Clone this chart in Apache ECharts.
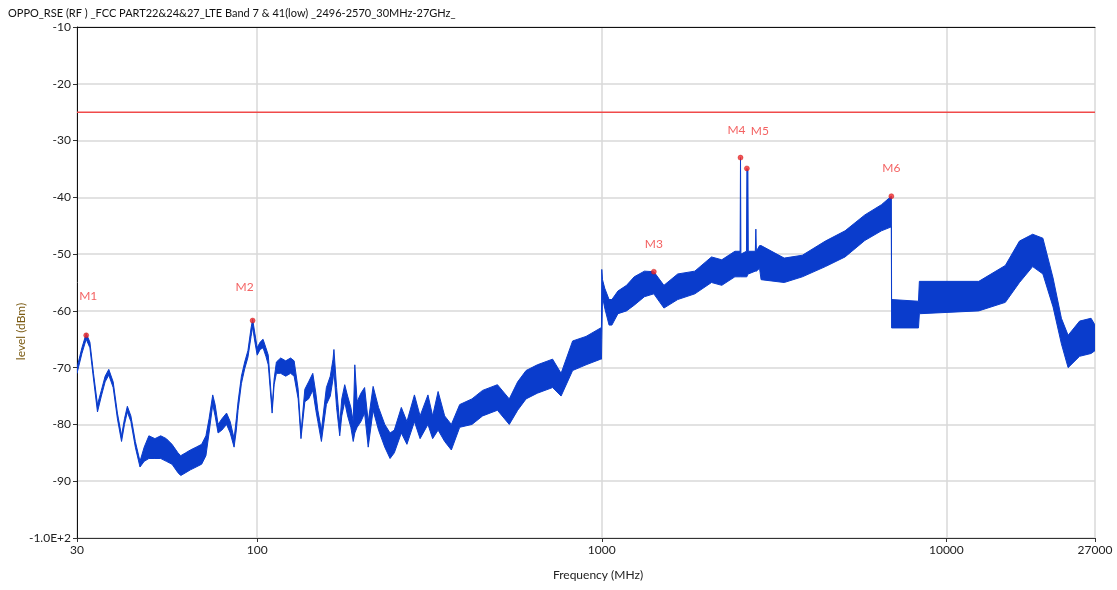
<!DOCTYPE html>
<html>
<head>
<meta charset="utf-8">
<title>OPPO RSE</title>
<script src="https://cdn.jsdelivr.net/npm/echarts@6/dist/echarts.min.js"></script>
<style>
  html, body { margin: 0; padding: 0; background: #fff; }
  #chart { width: 1117px; height: 590px; }
</style>
</head>
<body>
<div id="chart"></div>
<script>
// trace envelope: frequency (MHz), upper and lower edge of the noisy trace (dBm)
var freqs = [
  30, 31, 31.9, 32.7, 33.5, 34.4, 35.3, 36.2, 37.1, 38.2, 39.3, 40.4, 41.2, 42, 43, 44.3, 45.7,
  47, 48.5, 50.5, 52.5, 54.5, 56.6, 58.9, 60, 62, 64, 66.5, 69, 71, 72.5, 74.3, 75.5, 77, 79,
  81.5, 83.5, 85.7, 87, 88, 90, 92, 94, 96, 97, 98.5, 100, 102, 104, 106, 107.7, 110.5, 112,
  113.7, 117, 121, 125, 128, 131.5, 134, 137.5, 141, 145, 148, 150, 153.6, 158.8, 163, 166,
  167, 170, 173.6, 176, 179.5, 183, 187, 190, 192, 195, 200, 205, 210, 217, 225, 234.6, 243,
  250, 262, 272, 286, 297, 313, 323, 335, 350, 366, 387, 420, 451, 498, 539, 570, 603, 650,
  720, 762, 823, 900, 993, 998, 1000, 1005, 1020, 1050, 1070, 1114, 1180, 1242, 1330, 1416,
  1515, 1661, 1862, 2082, 2230, 2434, 2520, 2527, 2534, 2630, 2637, 2655, 2662, 2790, 2800,
  2810, 2870, 2900, 3384, 3820, 4456, 5082, 5799, 6480, 6924, 6935, 8300, 8350, 12420, 14830,
  16300, 17800, 19060, 20400, 21570, 22560, 24360, 26300, 27000
];
var levelHi = [
  -70, -66.5, -64, -65.5, -71, -76.5, -74, -71.5, -70.3, -72.5, -78, -82, -79, -76.8, -78.5, -83, -86.5,
  -84, -82, -82.5, -82, -82.5, -83.5, -85, -85.5, -85, -84.5, -84, -83.5, -82, -79, -74.8, -76.5, -80, -79,
  -78, -79.5, -82.5, -79, -76, -71.5, -69, -67, -63, -61.5, -64, -66.5, -65.5, -65, -66.5, -67.8, -77, -72,
  -69, -68.3, -68.8, -68.3, -68.8, -73.8, -81.5, -73.8, -72.5, -71, -74.5, -77.5, -81, -73.5, -71.5, -68.5,
  -66.8, -73.5, -80, -75.5, -73, -75, -77, -79.5, -69.5, -76, -74.5, -73.5, -79.5, -73.3, -77, -80, -81.5,
  -81, -77, -79.5, -74.8, -78.5, -74.8, -78.5, -74.2, -78.5, -80, -76.5, -75.5, -74, -73, -75.5, -72.5, -70.5, -69.5,
  -68.5, -71, -65.3, -64.5, -63, -63, -52.7, -54.5, -56, -58, -58, -56.5, -55.5, -54, -53, -53.1,
  -55.5, -53.5, -53, -50.5, -51, -49.5, -49.5, -33, -50, -49.5, -34.9, -35.4, -49.5, -49.5, -45.6,
  -49.5, -48.5, -48.5, -50.7, -50.2, -47.7, -45.9, -43.1, -41.3, -39.8, -58, -58.3, -54.8, -54.8, -52,
  -47.7, -46.5, -47.2, -54.2, -61.3, -64.3, -61.8, -61.3, -62.5
];
var levelLo = [
  -71, -67.5, -65, -66.5, -72, -77.8, -75, -72.5, -71.3, -73.5, -79, -83, -80, -77.8, -79.5, -84, -87.5,
  -86.5, -86, -86, -86, -86.5, -87, -88.5, -89, -88.5, -88, -87.5, -87, -85.5, -81.5, -76.5, -78.5, -81.5, -81,
  -80, -81.5, -84, -81, -77.5, -72.8, -70.2, -68.2, -64.5, -62.8, -65.5, -67.8, -66.8, -66.5, -68, -69.5, -78, -73,
  -71, -71, -71.5, -71, -71.5, -75.5, -82.5, -76, -75.5, -74, -77.5, -79.5, -83, -76.5, -75, -72,
  -70.5, -77, -82, -78.5, -76, -78.5, -80.5, -83, -81.5, -80.5, -79.5, -78, -84, -77.5, -81, -84, -86,
  -85, -81.5, -83.5, -79.5, -82.5, -80, -82.5, -81, -83, -84.5, -80.5, -80, -78.5, -77.5, -80, -77.5, -75.5, -74.5,
  -73.5, -75, -70.5, -69.5, -68.5, -68.5, -65, -57.5, -59.5, -62.5, -62.5, -60.5, -60, -59, -57.5, -57,
  -59.5, -58, -57, -55, -55.5, -54, -54, -54, -54, -54, -54, -53.5, -53.5, -53, -53,
  -53, -52.5, -54.5, -55, -54, -52.2, -50.5, -47.6, -45.9, -45.2, -63, -63, -60.5, -60, -58.5,
  -55, -52.2, -53.5, -59.3, -65.8, -70, -68, -67.5, -67
];

// peak markers
var markerNames = ['M1', 'M2', 'M3', 'M4', 'M5', 'M6'];
var markerFreqs = [31.9, 97, 1416, 2527, 2637, 6924];
var markerLevels = [-64.3, -61.7, -53.1, -33.0, -34.9, -39.8];

// limit line
var limitLevel = -25;
var freqRange = [30, 27000];

var yTicks = [-100, -90, -80, -70, -60, -50, -40, -30, -20, -10];

var fontFamily = 'Lato, "Liberation Sans", sans-serif';
var labelShift = { M1: [2, -11], M2: [-8, -6], M4: [-4, 0], M5: [13, -10] };

var chart = echarts.init(document.getElementById('chart'), null, { renderer: 'canvas' });

var option = {
  animation: false,
  backgroundColor: '#fff',
  textStyle: { fontFamily: fontFamily },
  title: {
    text: 'OPPO_RSE (RF ) _FCC PART22&24&27_LTE Band 7 & 41(low) _2496-2570_30MHz-27GHz_',
    left: 3,
    top: 3,
    textStyle: { fontSize: 11, fontWeight: 'normal', color: '#111', fontFamily: fontFamily }
  },
  grid: { left: 77, right: 22, top: 27, bottom: 52, outerBoundsMode: 'none' },
  xAxis: [
    {
      type: 'log',
      logBase: 10,
      min: freqRange[0],
      max: freqRange[1],
      name: 'Frequency (MHz)',
      nameLocation: 'middle',
      nameGap: 31,
      nameTextStyle: { fontSize: 12, color: '#222', padding: [0, 0, 0, 24] },
      axisLine: { lineStyle: { color: '#333', width: 1 } },
      axisTick: { show: true, length: 4, lineStyle: { color: '#333' } },
      axisLabel: {
        fontSize: 12, color: '#222', margin: 6,
        showMinLabel: true, showMaxLabel: true,
        formatter: function (v) { return String(Math.round(v)); }
      },
      splitLine: { show: true, lineStyle: { color: '#d8d8d8', width: 1.5 } }
    },
    {
      type: 'log',
      logBase: 10,
      min: freqRange[0],
      max: freqRange[1],
      position: 'top',
      axisLine: { show: true, lineStyle: { color: '#111', width: 1 } },
      axisTick: { show: false },
      axisLabel: { show: false },
      splitLine: { show: false }
    }
  ],
  yAxis: {
    type: 'value',
    min: yTicks[0],
    max: yTicks[yTicks.length - 1],
    interval: 10,
    name: 'level (dBm)',
    nameLocation: 'middle',
    nameGap: 50,
    nameMoveOverlap: false,
    nameTextStyle: { fontSize: 12, color: '#7a5a12', padding: [0, 98, 0, 0] },
    axisLine: { show: true, lineStyle: { color: '#111', width: 1 } },
    axisTick: { show: true, length: 4, lineStyle: { color: '#333' } },
    axisLabel: {
      fontSize: 12, color: '#222', margin: 6,
      formatter: function (v) { return v === -100 ? '-1.0E+2' : String(v); }
    },
    splitLine: { show: true, lineStyle: { color: '#d8d8d8', width: 1.5 } }
  },
  series: [
    {
      // the measured trace, drawn as the band between its upper and lower edge
      type: 'custom',
      xAxisIndex: 0,
      clip: true,
      z: 3,
      data: [[freqs[0], levelHi[0]]],
      renderItem: function (params, api) {
        var top = [];
        var bottom = [];
        for (var i = 0; i < freqs.length; i++) {
          top.push(api.coord([freqs[i], levelHi[i]]));
          bottom.unshift(api.coord([freqs[i], levelLo[i]]));
        }
        return {
          type: 'polygon',
          shape: { points: top.concat(bottom) },
          style: { fill: '#0a3ccc', stroke: '#0a3ccc', lineWidth: 1 }
        };
      }
    },
    {
      type: 'line',
      xAxisIndex: 0,
      data: [[freqRange[0], limitLevel], [freqRange[1], limitLevel]],
      symbol: 'none',
      lineStyle: { color: '#f04a4a', width: 1.5 },
      z: 4
    },
    {
      type: 'scatter',
      xAxisIndex: 0,
      symbol: 'circle',
      symbolSize: 5,
      itemStyle: { color: '#f22a2a', borderColor: '#c01010', borderWidth: 0.5 },
      z: 5,
      label: {
        show: true,
        position: 'top',
        distance: 19,
        color: '#f03a3a',
        fontSize: 12,
        fontFamily: fontFamily
      },
      data: markerNames.map(function (n, i) {
        var item = { value: [markerFreqs[i], markerLevels[i]], name: n, label: { formatter: n } };
        if (labelShift[n]) item.label.offset = labelShift[n];
        return item;
      })
    }
  ]
};

chart.setOption(option);
</script>
</body>
</html>
